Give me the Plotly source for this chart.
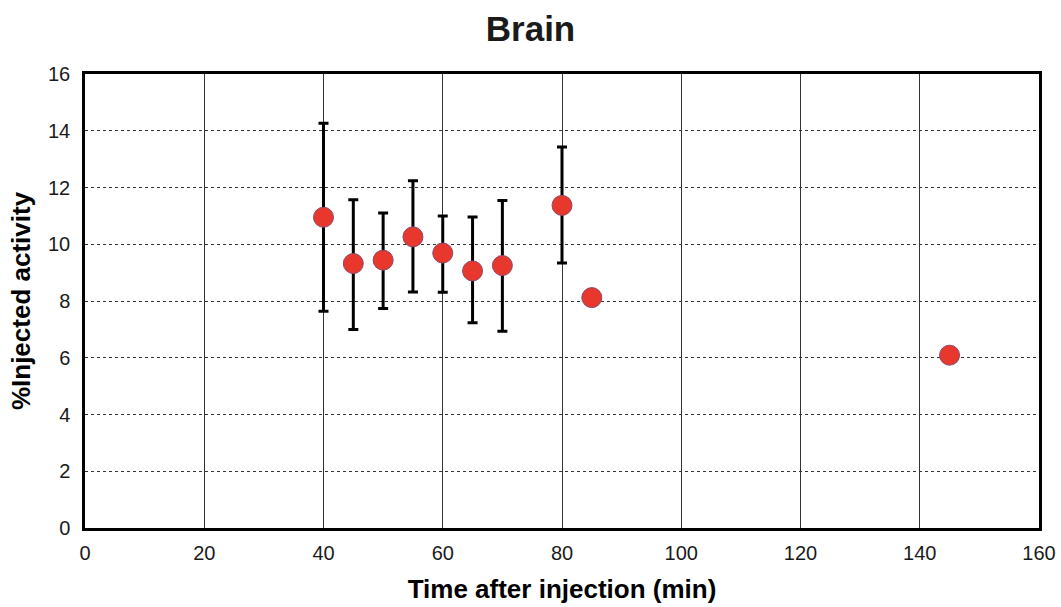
import plotly.graph_objects as go

time_min = [40, 45, 50, 55, 60, 65, 70, 80, 85, 145]
injected_activity = [10.95, 9.32, 9.44, 10.26, 9.69, 9.06, 9.25, 11.37, 8.12, 6.09]
err_plus = [3.31, 2.25, 1.66, 1.98, 1.31, 1.90, 2.29, 2.06, 0, 0]
err_minus = [3.31, 2.32, 1.70, 1.94, 1.38, 1.83, 2.32, 2.03, 0, 0]
x_ticks = [0, 20, 40, 60, 80, 100, 120, 140, 160]
y_ticks = [0, 2, 4, 6, 8, 10, 12, 14, 16]

fig = go.Figure()
fig.add_trace(go.Scatter(
    x=time_min, y=injected_activity, mode="markers",
    marker=dict(size=20, color="#e8372c", line=dict(color="#8a4a6a", width=1)),
    error_y=dict(type="data", symmetric=False, array=err_plus, arrayminus=err_minus,
                 color="black", thickness=3, width=5),
    showlegend=False,
))

font = "Liberation Sans, Arial, sans-serif"
fig.update_layout(
    width=1061, height=607,
    margin=dict(l=85, r=22, t=74, b=79),
    paper_bgcolor="white", plot_bgcolor="white",
    title=dict(text="<b>Brain</b>", x=0.5, xanchor="center", y=0.952, yanchor="middle",
               font=dict(family=font, size=35, color="#1a1a1a")),
    font=dict(family=font, color="black"),
)
fig.update_xaxes(
    range=[0, 160], tickvals=x_ticks, ticks="", ticklabelstandoff=5,
    tickfont=dict(size=20, color="#1a1a1a"), automargin=False,
    showgrid=True, gridcolor="#333333", gridwidth=1,
    showline=True, linecolor="black", linewidth=2.5, mirror=True,
    zeroline=False,
    title=dict(text="<b>Time after injection (min)</b>", font=dict(size=26, color="black"), standoff=18),
)
fig.update_yaxes(
    range=[0, 16], tickvals=y_ticks, ticks="", ticklabelstandoff=8,
    tickfont=dict(size=20, color="#1a1a1a"), automargin=False,
    showgrid=True, gridcolor="#333333", gridwidth=1, griddash="dot",
    showline=True, linecolor="black", linewidth=2.5, mirror=True,
    zeroline=False,
    title=dict(text="<b>%Injected activity</b>", font=dict(size=26, color="black"), standoff=10),
)
fig.write_html("out.html")
